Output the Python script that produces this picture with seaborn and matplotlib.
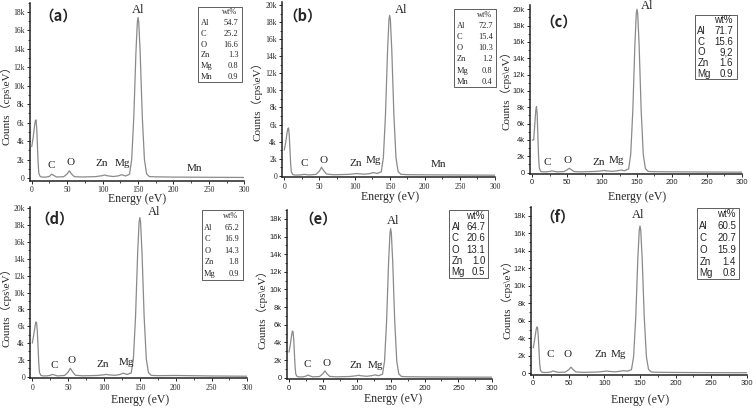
import numpy as np
import pandas as pd
import matplotlib
matplotlib.use("Agg")
import matplotlib.pyplot as plt
import seaborn as sns
from matplotlib.ticker import MultipleLocator, FuncFormatter
from matplotlib.patches import Rectangle

# ---- data ----
energy = [0, 2, 4, 5, 6, 7, 8, 9, 10, 12, 15, 20, 25, 28, 31, 35, 45, 50, 53, 56,
          60, 70, 90, 100, 103, 106, 115, 122, 127, 132, 138, 141, 144, 147, 149, 150,
          151, 153, 156, 159, 162, 166, 175, 200, 250, 300]

counts_a = [3400, 4400, 5700, 6200, 6300, 5400, 3500, 1600, 500, 150, 100, 100, 180, 420, 280, 110,
            140, 450, 780, 450, 150, 110, 150, 260, 330, 250, 160, 230, 360, 220, 400, 2000,
            6600, 13600, 16900, 17400, 16900, 13600, 6600, 2000, 450, 150, 130, 100, 80, 60]
counts_b = [3000, 3900, 5100, 5500, 5600, 4800, 3100, 1400, 450, 130, 80, 80, 110, 160, 130, 90,
            150, 550, 980, 600, 200, 110, 150, 220, 260, 220, 180, 250, 370, 260, 450, 2100,
            7100, 14700, 18300, 18800, 18300, 14700, 7100, 2100, 480, 160, 120, 100, 80, 60]
counts_c = [4000, 4000, 6400, 7600, 8100, 7200, 4500, 2000, 600, 150, 100, 100, 150, 220, 170, 100,
            130, 350, 540, 350, 130, 100, 150, 220, 270, 220, 160, 230, 320, 230, 460, 2240,
            7560, 15700, 19500, 20000, 19500, 15700, 7560, 2240, 500, 150, 120, 100, 80, 60]
counts_d = [4000, 5000, 6100, 6500, 6400, 5400, 3500, 1600, 500, 150, 100, 100, 160, 280, 200, 100,
            150, 550, 1000, 600, 180, 110, 150, 230, 280, 230, 170, 260, 420, 270, 450, 2120,
            7140, 14800, 18400, 18900, 18400, 14800, 7140, 2120, 480, 160, 130, 150, 90, 60]
counts_e = [2900, 3800, 4900, 5300, 5200, 4300, 2700, 1200, 400, 130, 90, 90, 180, 300, 200, 100,
            130, 450, 780, 450, 150, 100, 140, 230, 280, 220, 160, 230, 320, 230, 400, 1900,
            6400, 13200, 16400, 16900, 16400, 13200, 6400, 1900, 430, 140, 110, 90, 70, 60]
counts_f = [2900, 3900, 5000, 5300, 5200, 4200, 2600, 1100, 350, 120, 90, 90, 160, 260, 180, 100,
            130, 420, 700, 420, 150, 100, 140, 220, 260, 220, 160, 230, 300, 230, 400, 1890,
            6370, 13200, 16400, 16850, 16400, 13200, 6370, 1890, 430, 140, 110, 90, 70, 60]

elements_6 = ["Al", "C", "O", "Zn", "Mg", "Mn"]
elements_5 = ["Al", "C", "O", "Zn", "Mg"]
wt_a = ["54.7", "25.2", "16.6", "1.3", "0.8", "0.9"]
wt_b = ["72.7", "15.4", "10.3", "1.2", "0.8", "0.4"]
wt_c = ["71.7", "15.6", "9,2", "1.6", "0.9"]
wt_d = ["65.2", "16.9", "14.3", "1.8", "0.9"]
wt_e = ["64.7", "20.6", "13.1", "1.0", "0.5"]
wt_f = ["60.5", "20.7", "15.9", "1.4", "0.8"]

# ---- layout (pixel-matched) ----
SERIF = ["Liberation Serif", "Noto Sans CJK SC"]
SANS = ["Liberation Sans"]
CJK = ["Noto Sans CJK SC"]

panels = [
    dict(tag="a", counts=counts_a, elements=elements_6, wt=wt_a,
         rect=[0.0392, 0.5569, 0.284, 0.4363], ylim=(-300, 19000), tick_font=SERIF, table_font=SERIF,
         box=(0.784, 0.989, 0.555, 0.976), tag_xy=(0.135, 0.931),
         ylab=(-0.112, 0.44), xlab=(0.499, -0.104),
         peaks=[(26.8, 1410), (55, 1630), (99, 1520), (128, 1520), (150, 18200), (230, 1080)]),
    dict(tag="b", counts=counts_b, elements=elements_6, wt=wt_b,
         rect=[0.3733, 0.5652, 0.2815, 0.4306], ylim=(-200, 20400), tick_font=SERIF, table_font=SERIF,
         box=(0.807, 1.005, 0.513, 0.957), tag_xy=(0.098, 0.924),
         ylab=(-0.118, 0.446), xlab=(0.507, -0.11),
         peaks=[(28.5, 1450), (56.5, 1840), (102, 1450), (127, 1840), (167, 19400), (219, 1370)]),
    dict(tag="c", counts=counts_c, elements=elements_5, wt=wt_c,
         rect=[0.7013, 0.5728, 0.2798, 0.4145], ylim=(-200, 20500), tick_font=SANS, table_font=SANS,
         box=(0.779, 0.976, 0.564, 0.942), tag_xy=(0.136, 0.902),
         ylab=(-0.115, 0.51), xlab=(0.503, -0.132),
         peaks=[(22, 1220), (50.7, 1550), (95.6, 1220), (120, 1470), (165, 20400)]),
    dict(tag="d", counts=counts_d, elements=elements_5, wt=wt_d,
         rect=[0.0399, 0.0725, 0.2873, 0.4211], ylim=(-200, 20200), tick_font=SERIF, table_font=SERIF,
         box=(0.790, 0.978, 0.573, 0.980), tag_xy=(0.114, 0.932),
         ylab=(-0.114, 0.427), xlab=(0.506, -0.126),
         peaks=[(30.7, 1310), (55, 1900), (98, 1500), (131, 1660), (170, 19600)]),
    dict(tag="e", counts=counts_e, elements=elements_5, wt=wt_e,
         rect=[0.3796, 0.0699, 0.2716, 0.4152], ylim=(-200, 19000), tick_font=SANS, table_font=SANS,
         box=(0.791, 0.981, 0.601, 1.0), tag_xy=(0.151, 0.952),
         ylab=(-0.125, 0.43), xlab=(0.518, -0.117),
         peaks=[(27.6, 1550), (55.6, 1630), (99, 1440), (128, 1440), (153, 17800)]),
    dict(tag="f", counts=counts_f, elements=elements_5, wt=wt_f,
         rect=[0.7026, 0.0809, 0.2851, 0.4113], ylim=(-200, 19000), tick_font=SANS, table_font=SANS,
         box=(0.768, 0.966, 0.570, 0.993), tag_xy=(0.122, 0.943),
         ylab=(-0.115, 0.465), xlab=(0.505, -0.149),
         peaks=[(24.5, 2090), (48.4, 2090), (95, 2090), (119.5, 2090), (147.6, 18100)]),
]

sns.set_style("white")

def kfmt(v, pos):
    return "0" if abs(v) < 1 else f"{int(round(v / 1000))}k"

fig = plt.figure(figsize=(7.56, 4.08), dpi=100)

for p in panels:
    ax = fig.add_axes(p["rect"])
    df = pd.DataFrame({"energy": energy, "counts": p["counts"]})
    sns.lineplot(data=df, x="energy", y="counts", ax=ax, color="#8a8a8a", linewidth=0.9)

    ax.set_xlim(-3, 300)
    ax.set_ylim(*p["ylim"])
    sns.despine(ax=ax)
    for s in ["left", "bottom"]:
        ax.spines[s].set_linewidth(1.1)
        ax.spines[s].set_color("#222222")

    ax.xaxis.set_major_locator(MultipleLocator(50))
    ax.xaxis.set_minor_locator(MultipleLocator(25))
    ax.yaxis.set_major_locator(MultipleLocator(2000))
    ax.yaxis.set_minor_locator(MultipleLocator(1000))
    ax.yaxis.set_major_formatter(FuncFormatter(kfmt))
    ax.tick_params(which="major", direction="out", length=2.5, width=0.7, pad=1.2,
                   labelsize=5.5, labelfontfamily=p["tick_font"][0], left=True, bottom=True)
    ax.tick_params(which="minor", direction="out", length=1.5, width=0.6, left=True, bottom=True)

    # axis labels
    ax.set_xlabel("Energy (eV)", fontsize=8.5, family=SERIF)
    ax.set_ylabel("Counts（cps\\eV）", fontsize=8, family=SERIF)
    ax.xaxis.set_label_coords(*p["xlab"])
    ax.yaxis.set_label_coords(*p["ylab"])
    ax.xaxis.label.set_va("center")
    ax.yaxis.label.set_va("center")

    # panel tag
    ax.text(*p["tag_xy"], f"（{p['tag']}）", transform=ax.transAxes, fontsize=10.5,
            fontweight="bold", family=CJK, ha="center", va="center")

    # peak names
    names = ["C", "O", "Zn", "Mg", "Al", "Mn"]
    for name, (px, py) in zip(names, p["peaks"]):
        ax.text(px, py, name, fontsize=8 if name != "Al" else 9, family=SERIF,
                ha="center", va="center", color="#222222")

    # composition box
    x0, x1, yb, yt = p["box"]
    ax.add_patch(Rectangle((x0, yb), x1 - x0, yt - yb, transform=ax.transAxes,
                           fill=False, lw=0.6, ec="#444444", clip_on=False))
    rows = ["wt%"] + p["elements"]
    n = len(rows)
    dy = (yt - yb) / n
    w = x1 - x0
    fs = 6 if p["table_font"] is SERIF else 7
    for i, r in enumerate(rows):
        yy = yt - (i + 0.5) * dy
        if i == 0:
            ax.text(x0 + 0.9 * w, yy, "wt%", transform=ax.transAxes, fontsize=fs,
                    family=p["table_font"], ha="right", va="center")
        else:
            ax.text(x0 + 0.06 * w, yy, r, transform=ax.transAxes, fontsize=fs,
                    family=p["table_font"], ha="left", va="center")
            ax.text(x0 + 0.92 * w, yy, p["wt"][i - 1], transform=ax.transAxes, fontsize=fs,
                    family=p["table_font"], ha="right", va="center")

fig.savefig("out.png", dpi=100)
